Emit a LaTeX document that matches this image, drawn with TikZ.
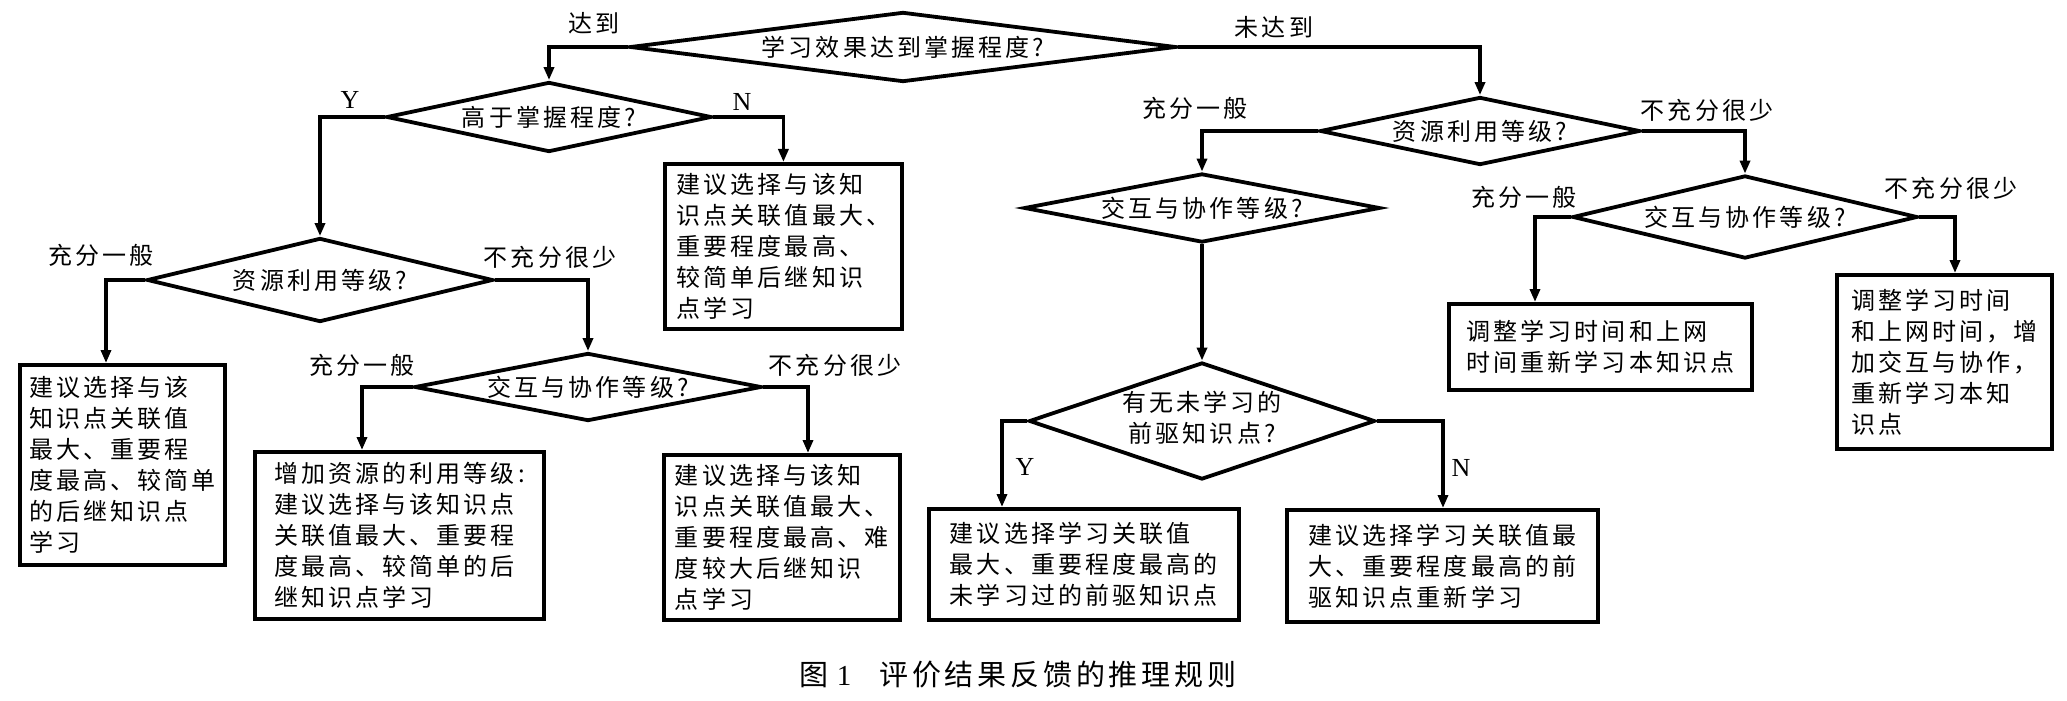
\documentclass[tikz,border=0pt]{standalone}
\usepackage{fontspec}
\setmainfont{Liberation Serif}
\newfontfamily\cjk[LetterSpace=13]{Noto Sans CJK SC}
\usetikzlibrary{shapes.geometric,arrows.meta,calc}
\tikzset{
  dia/.style={diamond, draw, line width=1.9pt, inner sep=0pt, shape aspect=1,
              font=\cjk\fontsize{12}{15.5}\selectfont},
  box/.style={rectangle, draw, line width=1.9pt, anchor=north west, inner xsep=3pt,
              inner ysep=2pt, align=left, font=\cjk\fontsize{12}{15.5}\selectfont},
  lbl/.style={font=\cjk\fontsize{12}{15}\selectfont, inner sep=0pt},
  yn/.style={font=\rmfamily\fontsize{13}{15}\selectfont, inner sep=0pt},
  arr/.style={line width=1.8pt, -{Triangle[length=6.5pt,width=5pt]}},
  captext/.style={font=\cjk\fontsize{14.5}{17}\selectfont, inner sep=0pt},
}
\begin{document}
\begin{tikzpicture}[x=0.5pt,y=-0.5pt]
\fill[white] (0,0) rectangle (2067,701);
\useasboundingbox (0,0) rectangle (2067,701);

% diamonds
\node[dia, minimum width=273pt, minimum height=35pt] (d0) at (903,47) {\makebox[0pt]{学习效果达到掌握程度?}};
\node[dia, minimum width=162.5pt, minimum height=35pt] (d1) at (549,117) {\makebox[0pt]{高于掌握程度?}};
\node[dia, minimum width=173pt, minimum height=42pt] (d2) at (320,280) {\makebox[0pt]{资源利用等级?}};
\node[dia, minimum width=173.5pt, minimum height=34pt] (d3) at (588,387) {\makebox[0pt]{交互与协作等级?}};
\node[dia, minimum width=160pt, minimum height=34pt] (d5) at (1480,131) {\makebox[0pt]{资源利用等级?}};
\node[dia, minimum width=178pt, minimum height=34.5pt] (d6) at (1202,208) {\makebox[0pt]{交互与协作等级?}};
\node[dia, minimum width=173pt, minimum height=58.5pt] (d7) at (1202,421) {\makebox[0pt]{\begin{tabular}{@{}c@{}}有无未学习的\\前驱知识点?\end{tabular}}};
\node[dia, minimum width=172.5pt, minimum height=41.5pt] (d8) at (1745,217) {\makebox[0pt]{交互与协作等级?}};

% boxes
\node[box, minimum width=118.5pt, minimum height=82.5pt] (b1) at (663,162)
  {建议选择与该知\\识点关联值最大、\\重要程度最高、\\较简单后继知识\\点学习};
\node[box, minimum width=102.5pt, minimum height=100pt] (b2) at (18,363)
  {建议选择与该\\知识点关联值\\最大、重要程\\度最高、较简单\\的后继知识点\\学习};
\node[box, minimum width=144.5pt, minimum height=83.5pt] (b3) at (253,450)
  {增加资源的利用等级:\\建议选择与该知识点\\关联值最大、重要程\\度最高、较简单的后\\继知识点学习};
\node[box, minimum width=118pt, minimum height=82.5pt] (b4) at (662,453)
  {建议选择与该知\\识点关联值最大、\\重要程度最高、难\\度较大后继知识\\点学习};
\node[box, minimum width=155pt, minimum height=55.5pt] (b7) at (927,507)
  {建议选择学习关联值\\最大、重要程度最高的\\未学习过的前驱知识点};
\node[box, minimum width=155.5pt, minimum height=56pt] (b8) at (1285,508)
  {建议选择学习关联值最\\大、重要程度最高的前\\驱知识点重新学习};
\node[box, minimum width=151.5pt, minimum height=43pt] (b9) at (1447,302)
  {调整学习时间和上网\\时间重新学习本知识点};
\node[box, minimum width=107.5pt, minimum height=87pt] (b10) at (1835,273)
  {调整学习时间\\和上网时间，增\\加交互与协作，\\重新学习本知\\识点};

% connectors
\draw[arr] (d0.west) -| (d1.north);
\draw[arr] (d0.east) -| (d5.north);
\draw[arr] (d1.west) -| (d2.north);
\draw[arr] (d1.east) -| (b1.north);
\draw[arr] (d2.west) -| ([xshift=44pt]b2.north west);
\draw[arr] (d2.east) -| (d3.north);
\draw[arr] (d3.west) -| ([xshift=54.5pt]b3.north west);
\draw[arr] (d3.east) -| ([xshift=73pt]b4.north west);
\draw[arr] (d5.west) -| (d6.north);
\draw[arr] (d5.east) -| (d8.north);
\draw[arr] (d6.south) -- (d7.north);
\draw[arr] (d7.west) -| ([xshift=37.5pt]b7.north west);
\draw[arr] (d7.east) -| ([xshift=79pt]b8.north west);
\draw[arr] (d8.west) -| ([xshift=44pt]b9.north west);
\draw[arr] (d8.east) -| ([xshift=60pt]b10.north west);

% labels
\node[lbl] (t0) at (594,23) {达到};
\node[lbl] (t1) at (1274,27) {未达到};
\node[yn] (t2) at (350,100) {Y};
\node[yn] (t3) at (742,102) {N};
\node[lbl] (t4) at (101,255) {充分一般};
\node[lbl] (t5) at (550,257) {不充分很少};
\node[lbl] (t6) at (362,365) {充分一般};
\node[lbl] (t7) at (835,365) {不充分很少};
\node[lbl] (t8) at (1195,108) {充分一般};
\node[lbl] (t9) at (1707,110) {不充分很少};
\node[lbl] (t10) at (1524,197) {充分一般};
\node[lbl] (t11) at (1951,188) {不充分很少};
\node[yn] (t12) at (1025,467) {Y};
\node[yn] (t13) at (1461,468) {N};

% caption
\node[captext] (captn) at (1018,675) {图\hspace{4pt}{\rmfamily 1}\hspace{14pt}评价结果反馈的推理规则};
\end{tikzpicture}
\end{document}
